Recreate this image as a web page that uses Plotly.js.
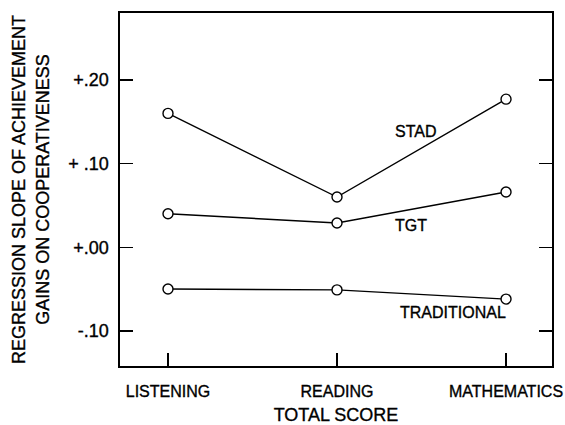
<!DOCTYPE html>
<html>
<head>
<meta charset="utf-8">
<script src="https://cdn.plot.ly/plotly-3.0.1.min.js"></script>
<style>
html,body{margin:0;padding:0;background:#fff;}
#chart{width:565px;height:425px;}
#chart svg text{stroke:#000;stroke-width:0.35px;}
</style>
</head>
<body>
<div id="chart"></div>
<script>
const categories = ["LISTENING", "READING", "MATHEMATICS"];
const seriesNames = ["STAD", "TGT", "TRADITIONAL"];
const stad = [0.160, 0.060, 0.177];
const tgt = [0.040, 0.029, 0.066];
const traditional = [-0.050, -0.051, -0.062];
const yTickVals = [-0.10, 0.00, 0.10, 0.20];
const yTickText = ["-.10", "+.00", "+ .10", "+.20"];
// label anchor positions for series names (x in category index units, y in data units)
const labelX = [1.467, 1.44, 1.686];
const labelY = [0.138, 0.0255, -0.0785];

const FONT = "Liberation Sans, Arial, sans-serif";
const allSeries = [stad, tgt, traditional];

const traces = allSeries.map((vals, i) => ({
  x: [0, 1, 2],
  y: vals,
  type: "scatter",
  mode: "lines+markers",
  name: seriesNames[i],
  line: {color: "#000", width: 1.4},
  marker: {symbol: "circle", size: 10, color: "#fff", line: {color: "#000", width: 1.4}},
  hoverinfo: "skip",
  cliponaxis: false
}));

const annotations = seriesNames.map((n, i) => ({
  x: labelX[i], y: labelY[i], xref: "x", yref: "y",
  text: n, showarrow: false,
  font: {family: FONT, size: 16, color: "#000"},
  xanchor: "center", yanchor: "middle"
}));

const layout = {
  width: 565, height: 425,
  margin: {l: 120, r: 13, t: 13, b: 59},
  paper_bgcolor: "#fff", plot_bgcolor: "#fff",
  showlegend: false,
  font: {family: FONT, color: "#000"},
  xaxis: {
    range: [-0.284, 2.272],
    tickvals: [0, 1, 2],
    ticktext: categories,
    ticks: "inside", ticklen: 13, tickwidth: 1.4, tickcolor: "#000",
    showline: true, linecolor: "#000", linewidth: 1.6, mirror: true,
    showgrid: false, zeroline: false,
    tickfont: {family: FONT, size: 16, color: "#000"},
    ticklabelstandoff: 10,
    title: {text: "TOTAL SCORE", font: {family: FONT, size: 18, color: "#000"}, standoff: 12},
    automargin: false
  },
  yaxis: {
    range: [-0.142, 0.280],
    tickvals: yTickVals,
    ticktext: yTickText,
    ticks: "inside", ticklen: 13, tickwidth: 1.4, tickcolor: "#000",
    showline: true, linecolor: "#000", linewidth: 1.6, mirror: "ticks",
    showgrid: false, zeroline: false,
    tickfont: {family: FONT, size: 18, color: "#000"},
    ticklabelstandoff: 6,
    title: {text: "REGRESSION SLOPE OF ACHIEVEMENT<br>GAINS ON COOPERATIVENESS", font: {family: FONT, size: 18, color: "#000"}, standoff: 14},
    automargin: false
  },
  annotations: annotations
};

Plotly.newPlot("chart", traces, layout, {staticPlot: true, displayModeBar: false});
</script>
</body>
</html>
